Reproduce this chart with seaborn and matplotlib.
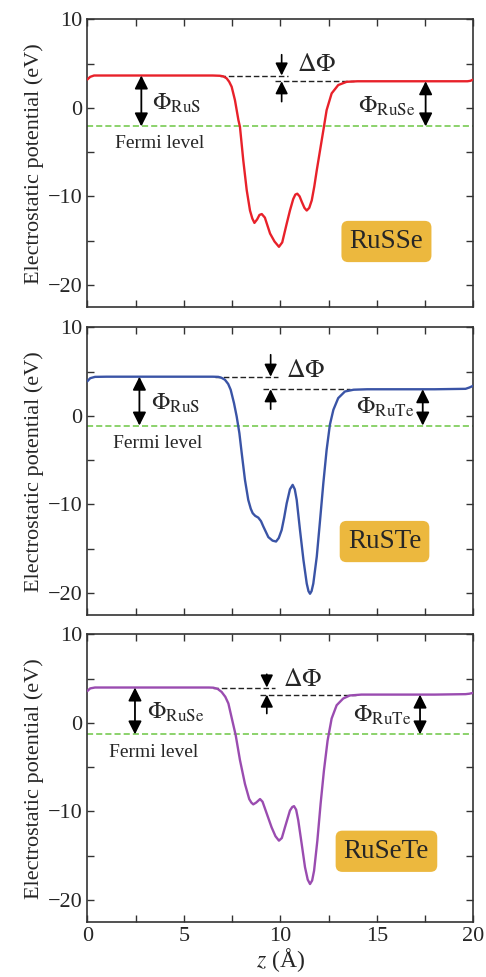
import matplotlib
matplotlib.use("Agg")
import matplotlib.pyplot as plt
from matplotlib.ticker import MultipleLocator
import seaborn as sns
import pandas as pd

# ---------------- data ----------------
z_russe = [0, 0.15, 0.35, 1, 3, 5, 6.5, 6.88, 7.05, 7.22, 7.35, 7.48, 7.65, 7.83, 7.91, 8.08, 8.26,
           8.43, 8.55, 8.66, 8.8, 8.92, 9.04, 9.2, 9.35, 9.47, 9.7, 9.93, 10.1, 10.33, 10.5, 10.67,
           10.78, 10.88, 11.0, 11.11, 11.25, 11.37, 11.5, 11.63, 11.76, 11.89, 12.09, 12.26, 12.4,
           12.66, 13.0, 13.44, 14, 15, 17, 19, 19.7, 19.85, 20]
v_russe = [3.2, 3.5, 3.65, 3.65, 3.65, 3.65, 3.65, 3.62, 3.55, 3.33, 2.95, 2.38, 0.87, -1.39, -2.15,
           -5.9, -9.3, -11.6, -12.5, -13.0, -12.6, -12.1, -12.0, -12.4, -13.4, -14.2, -15.1, -15.7,
           -15.2, -13.1, -11.6, -10.3, -9.8, -9.7, -10.0, -10.6, -11.3, -11.6, -11.3, -10.45, -8.9,
           -7.05, -4.4, -2.15, -0.26, 1.63, 2.57, 2.94, 3.0, 3.0, 3.0, 3.0, 3.0, 3.05, 3.2]

z_ruste = [0, 0.15, 0.4, 1, 3, 5, 6.5, 6.79, 6.95, 7.13, 7.3, 7.43, 7.6, 7.74, 7.88, 8.0, 8.17, 8.34,
           8.47, 8.57, 8.7, 8.86, 9.0, 9.12, 9.38, 9.6, 9.78, 9.92, 10.07, 10.2, 10.33, 10.5, 10.64,
           10.75, 10.85, 11.02, 11.2, 11.37, 11.46, 11.54, 11.62, 11.71, 11.89, 12.06, 12.23, 12.4,
           12.57, 12.75, 13.0, 13.35, 13.8, 14.5, 16, 18, 19.6, 19.8, 20]
v_ruste = [3.9, 4.25, 4.4, 4.42, 4.42, 4.42, 4.42, 4.4, 4.3, 4.08, 3.6, 2.94, 1.44, -0.08, -1.96,
           -4.2, -7.25, -9.5, -10.5, -11.0, -11.3, -11.5, -11.9, -12.5, -13.7, -14.1, -14.2, -13.8,
           -12.9, -11.5, -9.9, -8.3, -7.8, -8.3, -9.5, -12.9, -16.3, -18.95, -19.8, -20.1, -19.8,
           -18.95, -15.9, -11.8, -7.6, -3.85, -1.0, 0.68, 2.0, 2.75, 2.95, 3.0, 3.0, 3.0, 3.05, 3.2, 3.4]

z_rusete = [0, 0.15, 0.4, 1, 3, 5, 6.3, 6.53, 6.75, 6.96, 7.15, 7.31, 7.51, 7.69, 7.91, 8.17, 8.39,
            8.5, 8.6, 8.75, 8.95, 9.08, 9.21, 9.55, 9.75, 9.93, 10.08, 10.24, 10.5, 10.62, 10.71,
            10.82, 10.93, 11.11, 11.28, 11.42, 11.54, 11.65, 11.75, 11.92, 12.09, 12.26, 12.45,
            12.66, 12.92, 13.26, 13.6, 14.2, 16, 18, 19.6, 19.8, 20]
v_rusete = [3.6, 3.9, 4.0, 4.0, 4.0, 4.0, 4.0, 3.98, 3.85, 3.5, 2.95, 2.2, 0.3, -1.4, -4.2, -6.9,
            -8.6, -9.0, -9.2, -9.0, -8.6, -8.9, -9.7, -11.8, -12.8, -13.3, -13.0, -11.8, -9.9, -9.5,
            -9.4, -9.8, -11.0, -13.7, -16.3, -17.7, -18.2, -17.8, -16.7, -13.3, -9.1, -5.4, -2.0,
            0.5, 2.0, 2.76, 3.1, 3.2, 3.2, 3.2, 3.25, 3.3, 3.4]

systems = ["RuSSe", "RuSTe", "RuSeTe"]
z_data = [z_russe, z_ruste, z_rusete]
v_data = [v_russe, v_ruste, v_rusete]
line_colors = ["#E8212A", "#3A54A6", "#9A4CB0"]
fermi_levels = [-2.1, -1.1, -1.3]

left_levels = [3.65, 4.42, 4.0]
right_levels = [3.0, 3.0, 3.2]
left_labels = [r"$\Phi_{\rm RuS}$", r"$\Phi_{\rm RuS}$", r"$\Phi_{\rm RuSe}$"]
right_labels = [r"$\Phi_{\rm RuSe}$", r"$\Phi_{\rm RuTe}$", r"$\Phi_{\rm RuTe}$"]

left_arrow_z = [2.8, 2.7, 2.47]
left_text_pos = [(3.35, 0.5), (3.3, 1.4), (3.1, 1.2)]
right_arrow_z = [17.53, 17.38, 17.24]
right_text_pos = [(17.0, 0.2), (16.95, 1.0), (16.8, 0.85)]
fermi_text_pos = [(1.43, -4.0), (1.35, -3.1), (1.14, -3.3)]

dphi_z = [10.07, 9.5, 9.3]
dphi_left_span = [(6.9, 10.4), (6.6, 9.86), (6.5, 9.72)]
dphi_right_span = [(9.7, 13.8), (9.12, 13.6), (8.95, 13.9)]
dphi_top_start = [6.0, 6.9, 5.5]
dphi_bottom_start = [0.7, 0.75, 1.06]
dphi_text_pos = [(10.85, 4.87), (10.3, 5.1), (10.15, 4.84)]

box_pos = [(15.5, -15.1), (15.4, -14.2), (15.5, -14.5)]

x_ticks = [0, 5, 10, 15, 20]
y_ticks = [-20, -10, 0, 10]

# ---------------- style ----------------
sns.set_style("ticks")
plt.rcParams["font.family"] = ["Liberation Serif", "DejaVu Serif"]
plt.rcParams["mathtext.fontset"] = "stix"
plt.rcParams["axes.edgecolor"] = "#333333"
plt.rcParams["axes.linewidth"] = 1.2

fig = plt.figure(figsize=(4.86, 9.77), dpi=100)
W, H = 486.0, 977.0
ax_left, ax_w, ax_h = 87.3, 386.0, 287.7
tops = [19.3, 327.3, 634.4]

for i in range(3):
    top = tops[i]
    ax = fig.add_axes([ax_left / W, (H - top - ax_h) / H, ax_w / W, ax_h / H])
    df = pd.DataFrame({"z": z_data[i], "V": v_data[i]})
    sns.lineplot(data=df, x="z", y="V", ax=ax, color=line_colors[i], lw=1.7,
                 estimator=None, sort=False, zorder=3)
    ax.set_xlim(0, 20)
    ax.set_ylim(-22.5, 10)
    ax.xaxis.set_major_locator(MultipleLocator(5))
    ax.xaxis.set_minor_locator(MultipleLocator(2.5))
    ax.yaxis.set_major_locator(MultipleLocator(10))
    ax.yaxis.set_minor_locator(MultipleLocator(5))
    ax.tick_params(which="both", direction="in", top=True, right=True, length=5,
                   width=1.0, color="#333333", labelsize=16)
    ax.set_yticks(y_ticks)
    ax.set_yticklabels(["\u221220", "\u221210", "0", "10"])
    ax.set_ylabel("Electrostatic potential (eV)", fontsize=16, labelpad=3)
    if i < 2:
        ax.set_xticklabels([])
        ax.set_xlabel("")
    else:
        ax.set_xticks(x_ticks)
        ax.set_xlabel(r"$z$ (Å)", fontsize=17, labelpad=0)

    # Fermi level
    ax.axhline(fermi_levels[i], color="#6CC644", lw=1.1, ls=(0, (4, 2)), zorder=2)
    ax.text(fermi_text_pos[i][0], fermi_text_pos[i][1], "Fermi level", fontsize=14,
            ha="left", va="center")

    # Work function arrows
    ap2 = dict(arrowstyle="<|-|>,head_length=0.5,head_width=0.25", color="black", lw=1.3,
               mutation_scale=16, shrinkA=0, shrinkB=0)
    ax.annotate("", xy=(left_arrow_z[i], left_levels[i]),
                xytext=(left_arrow_z[i], fermi_levels[i]), arrowprops=ap2)
    ax.annotate("", xy=(right_arrow_z[i], right_levels[i]),
                xytext=(right_arrow_z[i], fermi_levels[i]), arrowprops=ap2)
    ax.text(left_text_pos[i][0], left_text_pos[i][1], left_labels[i], fontsize=17.5,
            ha="left", va="center")
    ax.text(right_text_pos[i][0], right_text_pos[i][1], right_labels[i], fontsize=17.5,
            ha="right", va="center")

    # Delta Phi
    ax.plot(dphi_left_span[i], [left_levels[i]] * 2, color="#222222", lw=1.0,
            ls=(0, (4, 2)), zorder=2)
    ax.plot(dphi_right_span[i], [right_levels[i]] * 2, color="#222222", lw=1.0,
            ls=(0, (4, 2)), zorder=2)
    ap1 = dict(arrowstyle="-|>,head_length=0.5,head_width=0.25", color="black", lw=1.2,
               mutation_scale=15, shrinkA=0, shrinkB=0)
    ax.annotate("", xy=(dphi_z[i], left_levels[i]),
                xytext=(dphi_z[i], dphi_top_start[i]), arrowprops=ap1)
    ax.annotate("", xy=(dphi_z[i], right_levels[i]),
                xytext=(dphi_z[i], dphi_bottom_start[i]), arrowprops=ap1)
    ax.text(dphi_text_pos[i][0], dphi_text_pos[i][1], r"$\Delta\Phi$", fontsize=18.5,
            ha="left", va="center")

    # System label box
    ax.text(box_pos[i][0], box_pos[i][1], systems[i], fontsize=19.5, ha="center",
            va="center", zorder=5,
            bbox=dict(boxstyle="round,pad=0.3,rounding_size=0.25",
                      facecolor="#ECB83E", edgecolor="none"))

fig.savefig("out.png", dpi=100)
